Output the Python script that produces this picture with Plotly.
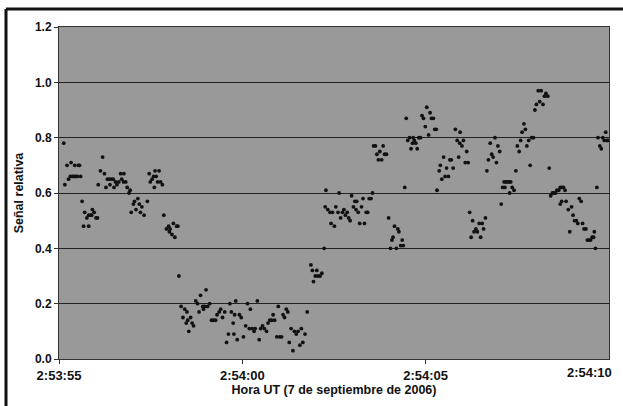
import pandas as pd
import plotly.graph_objects as go

# Seconds after 2:53:55 UT, 7 Sep 2006
t_sec = [0.13,0.16,0.22,0.33,0.43,0.53,0.56,0.26,0.31,0.36,0.41,0.46,0.50,0.59,
 0.63,0.67,0.70,0.76,0.81,0.81,0.87,0.91,0.96,1.01,1.05,0.89,
 1.07,1.13,1.19,1.24,1.28,1.32,1.38,1.43,1.48,1.54,1.58,1.63,1.68,1.71,1.77,1.82,1.86,1.91,1.94,1.76,1.50,1.39,
 1.97,2.03,2.06,2.10,2.15,2.19,2.22,2.26,2.32,2.41,
 2.46,2.49,2.54,2.58,2.62,2.65,2.69,2.73,2.77,2.82,2.60,
 2.86,2.93,2.99,3.03,3.08,3.12,3.16,3.21,3.24,3.01,
 3.27,
 3.33,3.38,3.43,3.47,3.51,3.54,3.59,3.63,3.67,3.49,
 3.73,3.78,3.82,3.86,3.92,3.97,4.01,4.05,4.11,3.94,
 4.16,4.21,4.27,4.31,4.37,4.41,4.46,4.52,4.57,4.62,4.66,4.70,4.75,4.79,4.82,4.86,4.92,4.97,5.03,4.77,
 5.09,5.14,5.19,5.22,5.27,5.32,5.35,5.41,5.46,5.50,5.55,5.60,5.66,5.70,5.75,5.80,5.84,5.88,5.94,5.98,
 6.02,6.07,6.11,6.15,6.20,6.24,6.28,6.33,6.38,6.42,6.47,6.52,6.57,6.61,6.65,6.71,6.77,
 6.87,6.91,6.94,6.99,7.03,7.06,7.12,7.17,
 7.23,7.28,7.26,
 7.33,7.39,7.42,7.46,7.51,7.55,7.61,7.64,7.68,7.73,7.77,7.81,7.86,7.90,7.94,7.98,8.03,8.07,8.12,8.16,
 8.20,8.25,8.29,8.33,8.38,8.42,8.46,8.51,8.55,8.10,
 8.58,8.63,8.67,8.71,8.75,8.80,8.84,8.88,8.93,
 8.99,9.04,9.08,9.11,9.15,9.20,9.24,9.27,9.32,9.36,9.39,9.43,
 9.47,9.51,9.56,9.60,9.64,9.69,9.73,9.77,9.81,9.86,9.66,
 9.90,9.94,9.99,10.03,10.08,10.12,10.16,10.21,10.25,10.29,10.31,
 10.37,10.40,10.44,10.49,10.53,10.57,10.62,10.66,10.70,10.75,
 10.81,10.86,10.90,10.94,10.99,11.03,11.08,11.12,11.16,10.93,
 11.20,11.24,11.28,11.32,11.37,11.41,11.46,11.50,11.54,11.58,11.63,
 11.67,11.71,11.76,11.80,11.84,11.89,11.93,11.97,12.02,12.06,
 12.10,12.14,12.19,12.23,12.28,12.32,12.36,12.41,12.16,12.29,
 12.46,12.50,12.55,12.59,12.63,12.68,12.72,12.76,12.81,12.85,12.89,12.94,
 12.98,13.02,13.07,13.11,13.15,13.20,13.24,13.28,13.33,13.37,
 13.41,13.46,13.50,13.54,13.58,13.63,13.67,13.71,13.76,13.80,
 13.67,13.71,13.83,13.89,13.93,13.98,14.02,14.06,14.11,14.15,14.19,14.24,14.28,14.32,14.37,
 14.41,14.45,14.50,14.54,14.58,14.60,14.63,14.67,14.70,14.75,14.79,14.83,14.87,14.91,14.94,14.97]

signal = [0.78,0.63,0.70,0.71,0.70,0.70,0.70,0.65,0.66,0.66,0.66,0.66,0.66,0.66,
 0.57,0.48,0.53,0.51,0.48,0.52,0.52,0.54,0.53,0.51,0.51,0.52,
 0.63,0.68,0.73,0.67,0.62,0.65,0.65,0.65,0.65,0.64,0.63,0.64,0.67,0.65,0.67,0.64,0.62,0.60,0.61,0.64,0.62,0.63,
 0.53,0.56,0.57,0.54,0.58,0.56,0.53,0.55,0.52,0.57,
 0.67,0.64,0.65,0.66,0.68,0.66,0.64,0.68,0.64,0.63,0.62,
 0.52,0.47,0.48,0.47,0.45,0.49,0.44,0.48,0.48,0.46,
 0.30,
 0.19,0.15,0.18,0.13,0.14,0.10,0.15,0.13,0.12,0.17,
 0.21,0.20,0.17,0.23,0.19,0.19,0.25,0.19,0.20,0.18,
 0.14,0.14,0.14,0.16,0.17,0.18,0.15,0.17,0.06,0.09,0.20,0.17,0.13,0.16,0.21,0.07,0.16,0.15,0.08,0.09,
 0.12,0.20,0.11,0.18,0.11,0.10,0.11,0.21,0.07,0.11,0.12,0.11,0.10,0.13,0.14,0.14,0.16,0.14,0.08,0.19,
 0.08,0.08,0.16,0.15,0.18,0.17,0.06,0.11,0.03,0.10,0.09,0.10,0.05,0.11,0.06,0.09,0.17,
 0.34,0.32,0.28,0.30,0.32,0.30,0.30,0.31,
 0.40,0.61,0.55,
 0.54,0.53,0.49,0.53,0.48,0.55,0.53,0.60,0.51,0.53,0.54,0.52,0.53,0.51,0.50,0.59,0.55,0.57,0.57,0.53,
 0.49,0.55,0.58,0.49,0.53,0.53,0.58,0.58,0.60,0.54,
 0.77,0.77,0.74,0.72,0.75,0.72,0.77,0.74,0.74,
 0.51,0.40,0.43,0.44,0.48,0.40,0.47,0.46,0.41,0.43,0.41,0.62,
 0.87,0.79,0.80,0.76,0.78,0.79,0.78,0.76,0.80,0.80,0.80,
 0.88,0.87,0.84,0.91,0.81,0.89,0.87,0.87,0.83,0.83,0.61,
 0.68,0.70,0.65,0.73,0.66,0.69,0.66,0.72,0.72,0.69,
 0.83,0.79,0.73,0.82,0.77,0.79,0.71,0.75,0.71,0.78,
 0.53,0.44,0.50,0.46,0.47,0.46,0.49,0.44,0.49,0.47,0.51,
 0.68,0.72,0.78,0.74,0.73,0.80,0.71,0.77,0.75,0.56,
 0.62,0.64,0.64,0.64,0.64,0.64,0.62,0.61,0.62,0.60,
 0.68,0.77,0.75,0.79,0.82,0.85,0.83,0.77,0.79,0.70,0.80,0.80,
 0.90,0.92,0.97,0.93,0.97,0.92,0.95,0.96,0.95,0.69,
 0.59,0.60,0.60,0.60,0.61,0.61,0.62,0.62,0.62,0.61,
 0.56,0.57,0.57,0.54,0.46,0.55,0.52,0.50,0.50,0.49,0.58,0.57,0.49,0.47,0.47,
 0.43,0.43,0.43,0.44,0.44,0.46,0.40,0.62,0.80,0.77,0.76,0.80,0.79,0.82,0.79,0.79]

start_time = "2006-09-07 02:53:55"
end_time = "2006-09-07 02:54:10"
x_ticks = ["2006-09-07 02:53:55", "2006-09-07 02:54:00", "2006-09-07 02:54:05"]
x_ticklabels = ["2:53:55", "2:54:00", "2:54:05"]
last_x_label = "2:54:10"
y_ticks = [0.0, 0.2, 0.4, 0.6, 0.8, 1.0, 1.2]
y_ticklabels = ["0.0", "0.2", "0.4", "0.6", "0.8", "1.0", "1.2"]

times = pd.Timestamp(start_time) + pd.to_timedelta(t_sec, unit="s")

FONT = "Arial, Liberation Sans, sans-serif"
INK = "#111111"

fig = go.Figure()
fig.add_trace(go.Scatter(
    x=times, y=signal, mode="markers",
    marker=dict(color=INK, size=3.8, line=dict(width=0)),
    showlegend=False, hoverinfo="skip",
))

fig.update_layout(
    width=623, height=406,
    margin=dict(l=59, r=14, t=27, b=47),
    paper_bgcolor="white",
    plot_bgcolor="#999999",
    font=dict(family=FONT, size=11, color=INK),
    showlegend=False,
    xaxis=dict(
        type="date",
        range=[start_time, end_time],
        tickvals=x_ticks, ticktext=x_ticklabels,
        showgrid=False, zeroline=False,
        ticks="outside", ticklen=4, tickcolor="#333333",
        showline=True, linecolor="#333333", linewidth=1, mirror=True,
        automargin=False,
        tickfont=dict(family=FONT, size=13, color=INK, weight="bold"),
        title=dict(text="<b>Hora UT (7 de septiembre de 2006)</b>",
                   font=dict(family=FONT, size=12.5, color=INK), standoff=0),
    ),
    yaxis=dict(
        range=[0, 1.2],
        tickvals=y_ticks, ticktext=y_ticklabels,
        showgrid=True, gridcolor="#222222", gridwidth=1.2,
        zeroline=False,
        ticks="outside", ticklen=4, tickcolor="#333333",
        showline=True, linecolor="#333333", linewidth=1, mirror=True,
        automargin=False,
        tickfont=dict(family=FONT, size=12, color=INK, weight="bold"),
        title=dict(text="<b>Señal relativa</b>",
                   font=dict(family=FONT, size=12.5, color=INK), standoff=8),
    ),
)

# label at the right end (pulled inside the figure like the original)
fig.add_annotation(x=end_time, y=0, xref="x", yref="paper", text="<b>" + last_x_label + "</b>",
                   showarrow=False, xanchor="right", yanchor="top", xshift=5, yshift=-4,
                   font=dict(family=FONT, size=13, color=INK))

# outer frame (left and top edges visible in the scanned figure)
fig.add_shape(type="line", xref="paper", yref="paper",
              x0=(6 - 59) / 550, x1=(6 - 59) / 550, y0=-0.3, y1=(359 - 9) / 332,
              line=dict(color=INK, width=3))
fig.add_shape(type="line", xref="paper", yref="paper",
              x0=(6 - 59) / 550, x1=1.1, y0=(359 - 9) / 332, y1=(359 - 9) / 332,
              line=dict(color=INK, width=3))

fig.write_html("out.html", config={"displayModeBar": False},
               post_script="document.body.style.margin='0';")
